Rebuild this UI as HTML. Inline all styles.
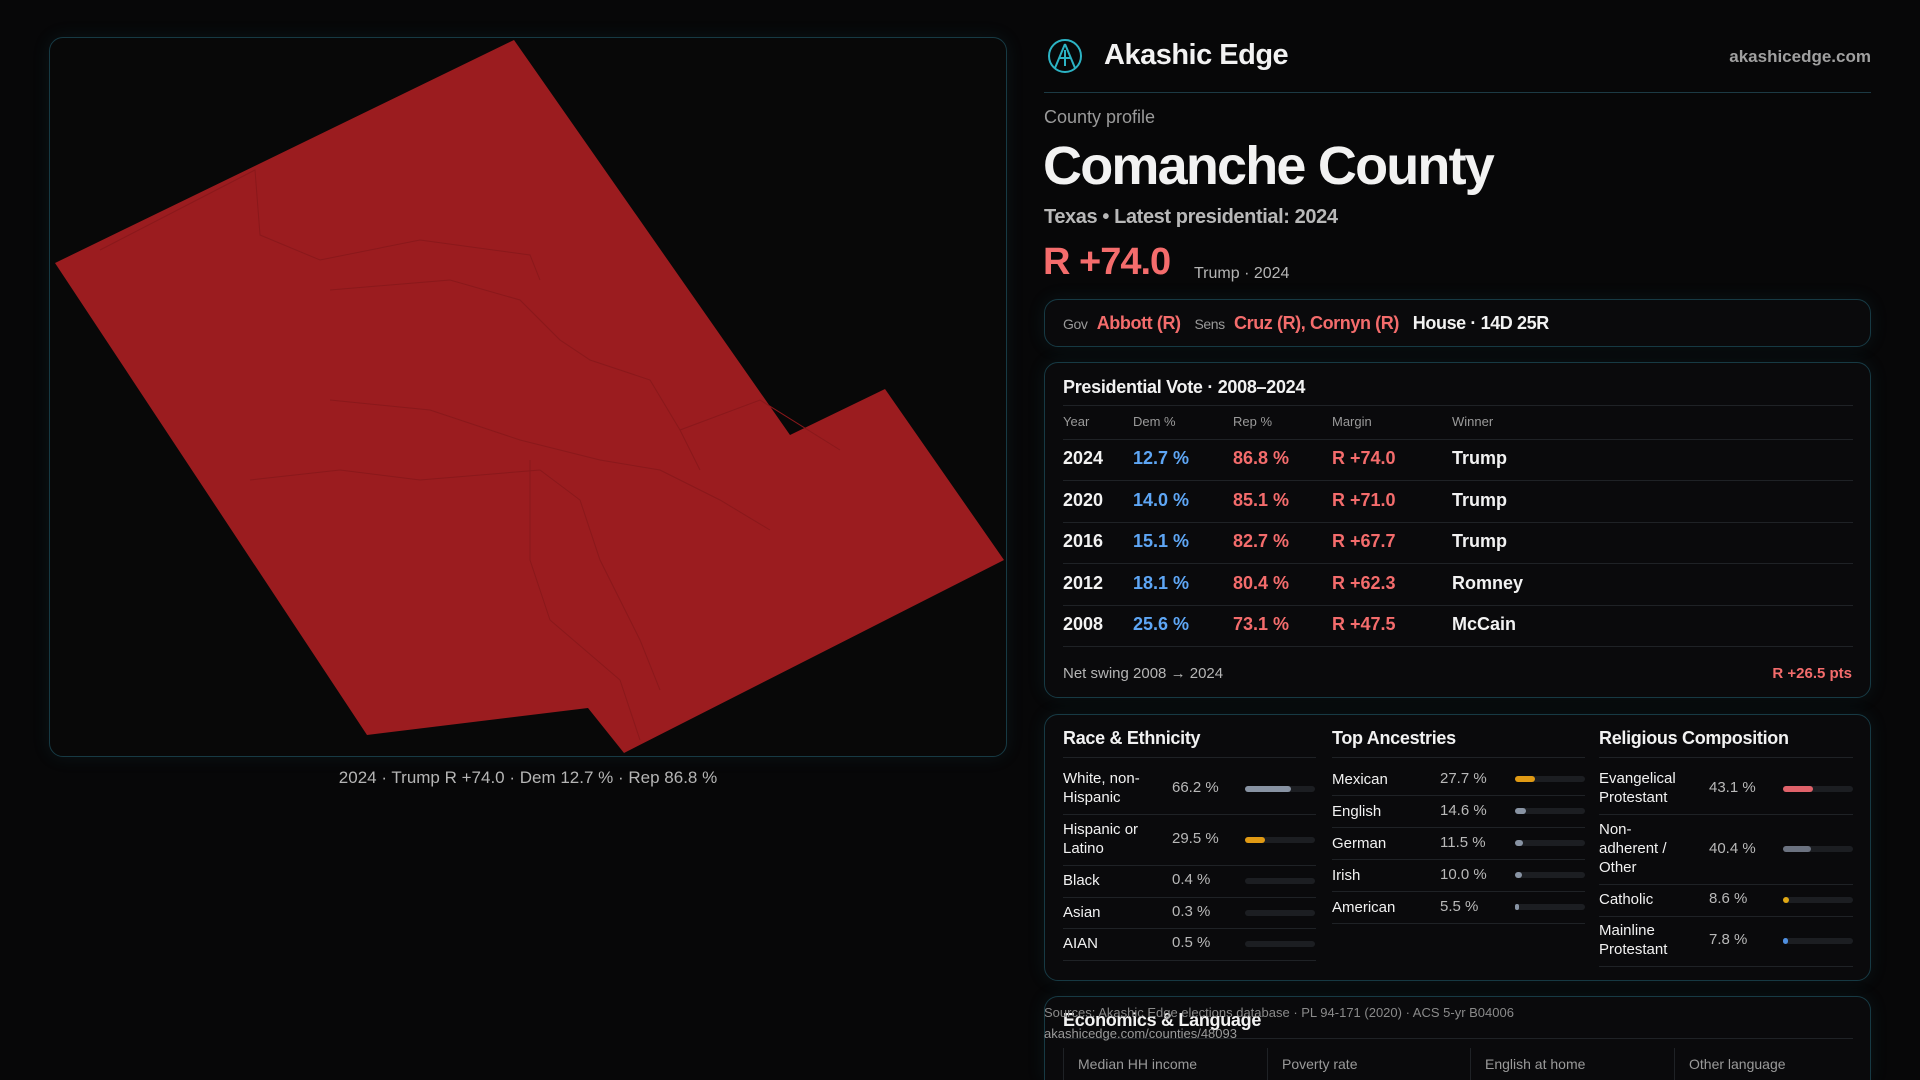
<!DOCTYPE html>
<html><head><meta charset="utf-8"><style>
*{margin:0;padding:0;box-sizing:border-box}
html{width:1920px;height:1080px;overflow:hidden;background:#070708}
body{width:1920px;height:1080px;background:#070708;font-family:"Liberation Sans",sans-serif;color:#f2f2f2;position:relative;overflow:hidden}
.a{position:absolute;white-space:nowrap}
.box{position:absolute;border:1px solid #173a44;border-radius:14px;background:#0a0a0c;box-shadow:0 0 18px rgba(40,120,140,0.12)}
.g{color:#9a9a9a}.r{color:#f46c6c}.b{color:#5ea6f5}
.sep{position:absolute;height:1px;background:#1f2226}
.bar{position:absolute;height:6px;border-radius:3px;background:#1c1e22;width:70px}
.bar i{position:absolute;left:0;top:0;height:6px;border-radius:3px;display:block}
.lab{font-size:15px;line-height:19px}
.val{font-size:15px;color:#b9b9b9}
</style></head><body>
<div class="box" style="left:49px;top:37px;width:958px;height:720px;background:#080808"></div>
<svg class="a" style="left:0;top:0" width="1020" height="770">
<polygon points="55,263 514,40 790,435 885,389 1004,560 624,753 588,708 367,735" fill="#9b1c1f"/>
<g fill="none" stroke="#8a181b" stroke-width="1">
<polyline points="100,250 255,170 260,235 320,260 420,240 530,255 540,280"/>
<polyline points="330,290 450,280 520,300 560,340 590,360 650,380 680,430 700,470"/>
<polyline points="330,400 430,410 520,440 600,460 660,470 720,500 770,530"/>
<polyline points="250,480 340,470 420,480 540,470 580,500 600,560 640,640 660,690"/>
<polyline points="530,460 530,560 550,620 620,680 640,740"/>
<polyline points="680,430 760,400 840,450"/>
</g></svg>
<div class="a g" style="left:0;width:1056px;text-align:center;top:768px;font-size:17px;color:#b5b5b5">2024 · Trump R +74.0 · Dem 12.7 % · Rep 86.8 %</div>

<svg class="a" style="left:1047px;top:38px" width="36" height="36"><circle cx="18" cy="18" r="16" fill="none" stroke="#2cb3c4" stroke-width="2"/><path d="M18 6 L8 30 M18 6 L28 30 M12 20 L24 20 M18 12 L18 28" stroke="#2cb3c4" stroke-width="2" fill="none"/></svg>
<div class="a" style="left:1104px;top:39px;font-size:29px;font-weight:bold;letter-spacing:-0.5px">Akashic Edge</div>
<div class="a g" style="right:49px;top:47px;font-size:17px;font-weight:bold;color:#a0a0a0">akashicedge.com</div>
<div class="a" style="left:1044px;top:92px;width:827px;height:1px;background:#1c3a44"></div>
<div class="a g" style="left:1044px;top:107px;font-size:18px">County profile</div>
<div class="a" style="left:1043px;top:135px;font-size:54px;font-weight:bold;letter-spacing:-1.8px">Comanche County</div>
<div class="a" style="left:1044px;top:206px;font-size:20px;color:#b8b8b8;font-weight:bold;letter-spacing:-0.4px">Texas • Latest presidential: 2024</div>
<div class="a r" style="left:1043px;top:241px;font-size:38px;font-weight:bold;letter-spacing:-1px">R +74.0</div>
<div class="a" style="left:1194px;top:265px;font-size:16px;color:#b5b5b5">Trump · 2024</div>

<div class="box" style="left:1044px;top:299px;width:827px;height:48px"></div>
<div class="a" style="left:1063px;top:313px;font-size:18px;letter-spacing:-0.4px"><span class="g" style="font-size:14px">Gov</span>&nbsp; <span class="r" style="font-weight:bold">Abbott (R)</span>&nbsp;&nbsp; <span class="g" style="font-size:14px">Sens</span>&nbsp; <span class="r" style="font-weight:bold">Cruz (R), Cornyn (R)</span>&nbsp;&nbsp; <span style="font-weight:bold">House · 14D 25R</span></div>

<div class="box" style="left:1044px;top:362px;width:827px;height:336px"></div>
<div class="a" style="left:1063px;top:377px;font-size:18px;font-weight:bold;letter-spacing:-0.3px">Presidential Vote · 2008–2024</div>
<div class="sep" style="left:1063px;width:790px;top:405px"></div>
<div class="a g" style="left:1063px;top:414px;font-size:13px">Year</div>
<div class="a g" style="left:1133px;top:414px;font-size:13px">Dem %</div>
<div class="a g" style="left:1233px;top:414px;font-size:13px">Rep %</div>
<div class="a g" style="left:1332px;top:414px;font-size:13px">Margin</div>
<div class="a g" style="left:1452px;top:414px;font-size:13px">Winner</div>
<div class="sep" style="left:1063px;width:790px;top:439px"></div>
<div style="position:absolute;left:1063px;top:448px;font-size:18px;font-weight:bold">
<div style="position:relative;height:41.5px"><span class="a" style="left:0">2024</span><span class="a b" style="left:70px">12.7 %</span><span class="a r" style="left:170px">86.8 %</span><span class="a r" style="left:269px">R +74.0</span><span class="a" style="left:389px">Trump</span></div>
<div style="position:relative;height:41.5px"><span class="a" style="left:0">2020</span><span class="a b" style="left:70px">14.0 %</span><span class="a r" style="left:170px">85.1 %</span><span class="a r" style="left:269px">R +71.0</span><span class="a" style="left:389px">Trump</span></div>
<div style="position:relative;height:41.5px"><span class="a" style="left:0">2016</span><span class="a b" style="left:70px">15.1 %</span><span class="a r" style="left:170px">82.7 %</span><span class="a r" style="left:269px">R +67.7</span><span class="a" style="left:389px">Trump</span></div>
<div style="position:relative;height:41.5px"><span class="a" style="left:0">2012</span><span class="a b" style="left:70px">18.1 %</span><span class="a r" style="left:170px">80.4 %</span><span class="a r" style="left:269px">R +62.3</span><span class="a" style="left:389px">Romney</span></div>
<div style="position:relative;height:41.5px"><span class="a" style="left:0">2008</span><span class="a b" style="left:70px">25.6 %</span><span class="a r" style="left:170px">73.1 %</span><span class="a r" style="left:269px">R +47.5</span><span class="a" style="left:389px">McCain</span></div>
</div>
<div class="sep" style="left:1063px;width:790px;top:480px"></div>
<div class="sep" style="left:1063px;width:790px;top:522px"></div>
<div class="sep" style="left:1063px;width:790px;top:563px"></div>
<div class="sep" style="left:1063px;width:790px;top:605px"></div>
<div class="sep" style="left:1063px;width:790px;top:646px"></div>
<div class="a" style="left:1063px;top:665px;font-size:15px;color:#b5b5b5">Net swing 2008 → 2024</div>
<div class="a r" style="right:68px;top:665px;font-size:15px;font-weight:bold">R +26.5 pts</div>

<div class="box" style="left:1044px;top:714px;width:827px;height:267px"></div>
<div class="a" style="left:1063px;top:728px;font-size:18px;font-weight:bold;letter-spacing:-0.3px">Race &amp; Ethnicity</div>
<div class="a" style="left:1332px;top:728px;font-size:18px;font-weight:bold;letter-spacing:-0.3px">Top Ancestries</div>
<div class="a" style="left:1599px;top:728px;font-size:18px;font-weight:bold;letter-spacing:-0.3px">Religious Composition</div>
<div class="sep" style="left:1063px;width:253px;top:757px"></div>
<div class="sep" style="left:1332px;width:253px;top:757px"></div>
<div class="sep" style="left:1599px;width:254px;top:757px"></div>

<div class="a lab" style="left:1063px;top:769px">White, non-<br>Hispanic</div><div class="a val" style="left:1172px;top:779px">66.2 %</div><div class="bar" style="left:1245px;top:786px"><i style="width:46px;background:#8893a3"></i></div>
<div class="sep" style="left:1063px;width:253px;top:814px"></div>
<div class="a lab" style="left:1063px;top:820px">Hispanic or<br>Latino</div><div class="a val" style="left:1172px;top:830px">29.5 %</div><div class="bar" style="left:1245px;top:837px"><i style="width:20px;background:#e09a14"></i></div>
<div class="sep" style="left:1063px;width:253px;top:865px"></div>
<div class="a lab" style="left:1063px;top:871px">Black</div><div class="a val" style="left:1172px;top:871px">0.4 %</div><div class="bar" style="left:1245px;top:878px"></div>
<div class="sep" style="left:1063px;width:253px;top:897px"></div>
<div class="a lab" style="left:1063px;top:903px">Asian</div><div class="a val" style="left:1172px;top:903px">0.3 %</div><div class="bar" style="left:1245px;top:910px"></div>
<div class="sep" style="left:1063px;width:253px;top:928px"></div>
<div class="a lab" style="left:1063px;top:934px">AIAN</div><div class="a val" style="left:1172px;top:934px">0.5 %</div><div class="bar" style="left:1245px;top:941px"></div>
<div class="sep" style="left:1063px;width:253px;top:960px"></div>

<div class="a lab" style="left:1332px;top:770px">Mexican</div><div class="a val" style="left:1440px;top:770px">27.7 %</div><div class="bar" style="left:1515px;top:776px"><i style="width:20px;background:#e09a14"></i></div>
<div class="sep" style="left:1332px;width:253px;top:795px"></div>
<div class="a lab" style="left:1332px;top:802px">English</div><div class="a val" style="left:1440px;top:802px">14.6 %</div><div class="bar" style="left:1515px;top:808px"><i style="width:11px;background:#8893a3"></i></div>
<div class="sep" style="left:1332px;width:253px;top:827px"></div>
<div class="a lab" style="left:1332px;top:834px">German</div><div class="a val" style="left:1440px;top:834px">11.5 %</div><div class="bar" style="left:1515px;top:840px"><i style="width:8px;background:#8893a3"></i></div>
<div class="sep" style="left:1332px;width:253px;top:859px"></div>
<div class="a lab" style="left:1332px;top:866px">Irish</div><div class="a val" style="left:1440px;top:866px">10.0 %</div><div class="bar" style="left:1515px;top:872px"><i style="width:7px;background:#8893a3"></i></div>
<div class="sep" style="left:1332px;width:253px;top:891px"></div>
<div class="a lab" style="left:1332px;top:898px">American</div><div class="a val" style="left:1440px;top:898px">5.5 %</div><div class="bar" style="left:1515px;top:904px"><i style="width:4px;background:#8893a3"></i></div>
<div class="sep" style="left:1332px;width:253px;top:923px"></div>

<div class="a lab" style="left:1599px;top:769px">Evangelical<br>Protestant</div><div class="a val" style="left:1709px;top:779px">43.1 %</div><div class="bar" style="left:1783px;top:786px"><i style="width:30px;background:#e0626a"></i></div>
<div class="sep" style="left:1599px;width:254px;top:814px"></div>
<div class="a lab" style="left:1599px;top:820px">Non-<br>adherent /<br>Other</div><div class="a val" style="left:1709px;top:840px">40.4 %</div><div class="bar" style="left:1783px;top:846px"><i style="width:28px;background:#6b7280"></i></div>
<div class="sep" style="left:1599px;width:254px;top:884px"></div>
<div class="a lab" style="left:1599px;top:890px">Catholic</div><div class="a val" style="left:1709px;top:890px">8.6 %</div><div class="bar" style="left:1783px;top:897px"><i style="width:6px;background:#e0a814"></i></div>
<div class="sep" style="left:1599px;width:254px;top:916px"></div>
<div class="a lab" style="left:1599px;top:921px">Mainline<br>Protestant</div><div class="a val" style="left:1709px;top:931px">7.8 %</div><div class="bar" style="left:1783px;top:938px"><i style="width:5px;background:#4f8fe0"></i></div>
<div class="sep" style="left:1599px;width:254px;top:966px"></div>

<div class="box" style="left:1044px;top:996px;width:827px;height:84px;border-bottom:none;border-radius:14px 14px 0 0"></div>
<div class="a" style="left:1063px;top:1010px;font-size:18px;font-weight:bold;letter-spacing:-0.3px">Economics &amp; Language</div>
<div class="sep" style="left:1063px;width:790px;top:1038px"></div>
<div class="a g" style="left:1078px;top:1056px;font-size:14px">Median HH income</div>
<div class="a g" style="left:1282px;top:1056px;font-size:14px">Poverty rate</div>
<div class="a g" style="left:1485px;top:1056px;font-size:14px">English at home</div>
<div class="a g" style="left:1689px;top:1056px;font-size:14px">Other language</div>
<div class="a" style="left:1063px;top:1048px;width:1px;height:32px;background:#1f2226"></div>
<div class="a" style="left:1267px;top:1048px;width:1px;height:32px;background:#1f2226"></div>
<div class="a" style="left:1470px;top:1048px;width:1px;height:32px;background:#1f2226"></div>
<div class="a" style="left:1674px;top:1048px;width:1px;height:32px;background:#1f2226"></div>
<div class="a" style="left:1044px;top:1005px;font-size:13px;color:#8a8a8a">Sources: Akashic Edge elections database · PL 94-171 (2020) · ACS 5-yr B04006</div>
<div class="a" style="left:1044px;top:1026px;font-size:13px;color:#9a9a9a">akashicedge.com/counties/48093</div>
</body></html>
